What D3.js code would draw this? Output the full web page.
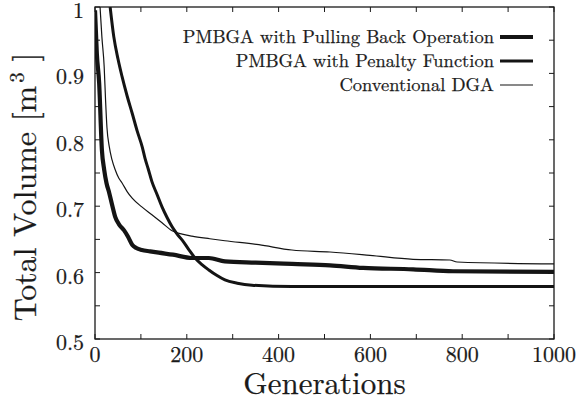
<!DOCTYPE html>
<html><head><meta charset="utf-8">
<script src="https://cdn.jsdelivr.net/npm/d3@7"></script>
<style>body{margin:0;background:#fff}svg{display:block}</style>
</head><body><svg id="c" width="576" height="410"></svg>
<script>
const seriesNames = ["PMBGA with Pulling Back Operation","PMBGA with Penalty Function","Conventional DGA"];
const pullingGen = [0,4,9,15,20,25,31,38,44,53,63,72,81,90,102,120,139,170,211,248,283,350,429,512,584,693,780,1000];
const pullingVal = [0.995,0.93,0.886,0.785,0.755,0.735,0.72,0.70,0.684,0.672,0.664,0.654,0.642,0.637,0.634,0.632,0.63,0.627,0.622,0.622,0.617,0.615,0.613,0.611,0.607,0.605,0.602,0.601];
const penaltyGen = [33,41,50,59,70,81,92,103,109,116,124,135,146,157,168,179,190,204,218,233,248,265,283,310,342,429,600,800,1000];
const penaltyVal = [1.0,0.955,0.922,0.895,0.866,0.84,0.813,0.789,0.772,0.756,0.737,0.718,0.699,0.683,0.669,0.658,0.649,0.635,0.622,0.612,0.604,0.596,0.589,0.584,0.581,0.579,0.579,0.579,0.579];
const dgaGen = [11,15,20,23,26,31,37,44,52,59,70,81,102,124,146,168,190,211,250,283,357,429,512,599,693,773,789,1000];
const dgaVal = [1.0,0.955,0.91,0.86,0.819,0.79,0.77,0.755,0.742,0.735,0.722,0.712,0.699,0.687,0.675,0.663,0.658,0.655,0.651,0.648,0.642,0.634,0.631,0.626,0.62,0.619,0.616,0.613];
const xTickLabels = [0,200,400,600,800,1000];
const yTickLabels = [0.5,0.6,0.7,0.8,0.9,1];
const strokeW = [4.2,3,1.2];

const FONT = '"Latin Modern Roman", "Liberation Serif", serif';
const svg = d3.select("#c");
const L=95,R=554,T=7,B=339;
const ink="#1a1a1a";
const x = d3.scaleLinear().domain([0,1000]).range([L,R]);
const y = d3.scaleLinear().domain([0.5,1]).range([B,T]);
const txt = (sel)=>sel.append("text").style("font-family",FONT).attr("fill",ink)
  .attr("stroke",ink).attr("stroke-width",0.25);

svg.append("defs").append("clipPath").attr("id","clip").append("rect")
  .attr("x",L).attr("y",T).attr("width",R-L).attr("height",B-T);

const g = svg.append("g");
g.append("rect").attr("x",L).attr("y",T).attr("width",R-L).attr("height",B-T)
  .attr("fill","none").attr("stroke",ink).attr("stroke-width",1.3);
const tl=5;
const xt = d3.range(0,1001,100), yt = d3.range(0.5,1.0001,0.05);
xt.forEach(v=>{
  g.append("line").attr("x1",x(v)).attr("x2",x(v)).attr("y1",B).attr("y2",B-tl).attr("stroke",ink);
  g.append("line").attr("x1",x(v)).attr("x2",x(v)).attr("y1",T).attr("y2",T+tl).attr("stroke",ink);
});
yt.forEach(v=>{
  g.append("line").attr("x1",L).attr("x2",L+tl).attr("y1",y(v)).attr("y2",y(v)).attr("stroke",ink);
  g.append("line").attr("x1",R).attr("x2",R-tl).attr("y1",y(v)).attr("y2",y(v)).attr("stroke",ink);
});
xTickLabels.forEach(v=>{
  txt(g).attr("x",x(v)).attr("y",B+23).attr("text-anchor","middle").attr("font-size",22).text(v);
});
yTickLabels.forEach(v=>{
  txt(g).attr("x",L-11).attr("y",y(v)+11).attr("text-anchor","end").attr("font-size",22).text(v);
});
txt(g).attr("x",(L+R)/2).attr("y",394).attr("text-anchor","middle").attr("font-size",31).text("Generations");
const yl = txt(g).attr("transform","translate(36,187) rotate(-90)")
  .attr("text-anchor","middle").attr("font-size",32);
yl.append("tspan").text("Total Volume [m");
yl.append("tspan").attr("dx",3).attr("dy",-12).attr("font-size",21).text("3");
yl.append("tspan").attr("dy",12).text(" ]");

const line = d3.line().x(d=>x(d[0])).y(d=>y(d[1])).curve(d3.curveMonotoneX);
const data = [
  d3.zip(pullingGen,pullingVal),
  d3.zip(penaltyGen,penaltyVal),
  d3.zip(dgaGen,dgaVal)
];
const lg = g.append("g").attr("clip-path","url(#clip)");
data.forEach((d,i)=>{
  lg.append("path").attr("d",line(d)).attr("fill","none").attr("stroke","#141414")
    .attr("stroke-width",strokeW[i]).attr("stroke-linejoin","round");
});
const ly=[37,61,85];
seriesNames.forEach((n,i)=>{
  txt(g).attr("x",494).attr("y",ly[i]+6).attr("text-anchor","end").attr("font-size",18.5).text(n);
  g.append("line").attr("x1",500).attr("x2",533).attr("y1",ly[i]).attr("y2",ly[i])
    .attr("stroke","#141414").attr("stroke-width",strokeW[i]);
});
</script></body></html>
